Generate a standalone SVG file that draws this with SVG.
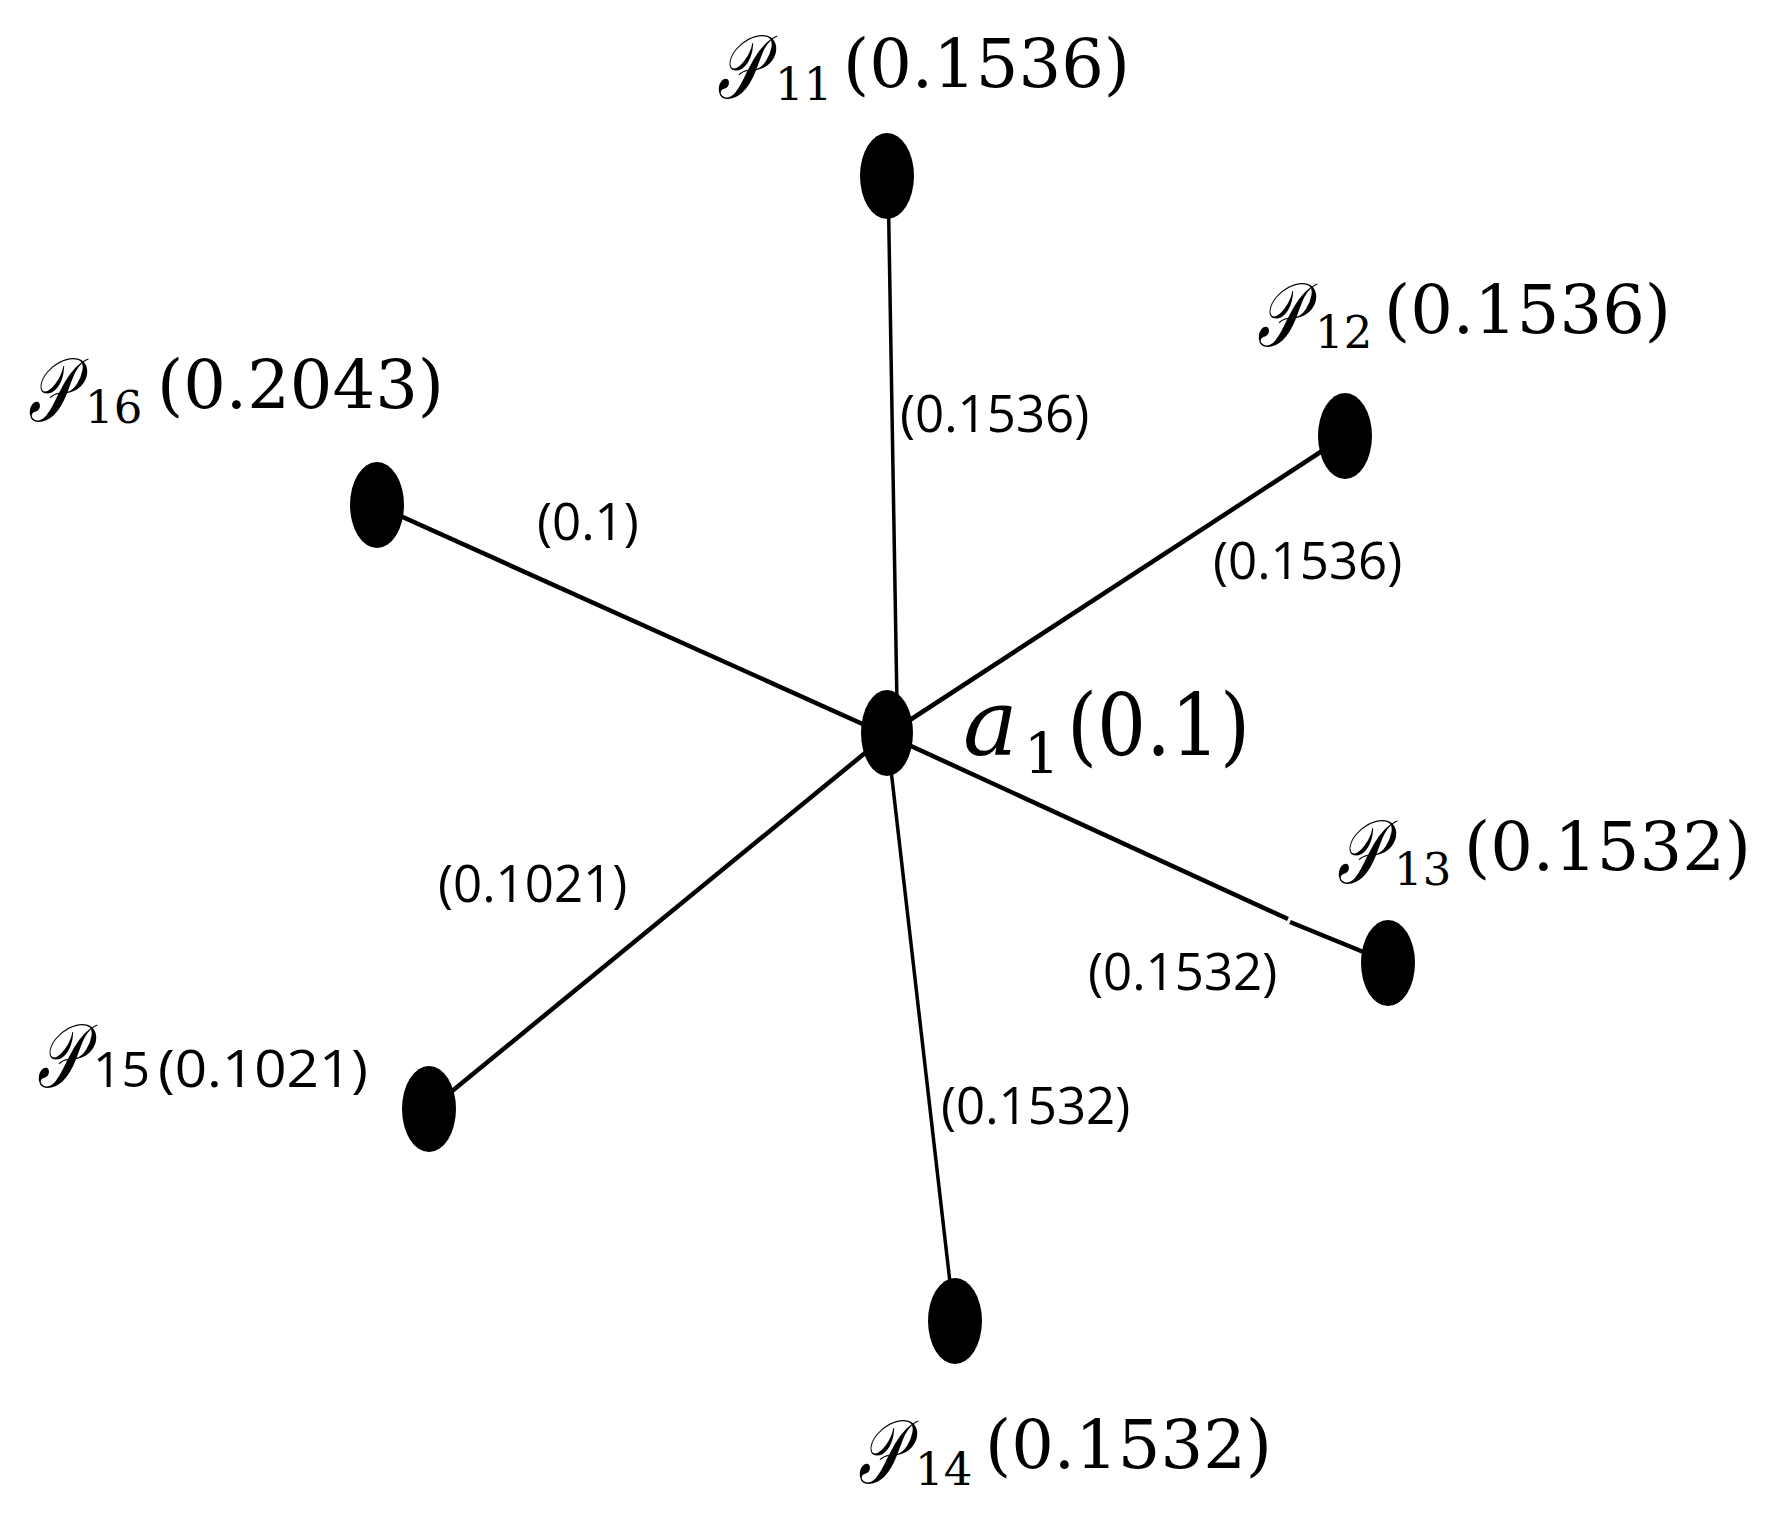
<svg xmlns="http://www.w3.org/2000/svg" width="1772" height="1515" viewBox="0 0 1772 1515">
<style>
.node{fill:#000}
.edge{stroke:#000;stroke-width:4.5;fill:none;stroke-linecap:butt}
.thin{stroke-width:3.5}
.big{font-family:"DejaVu Serif","Liberation Serif",serif;font-size:68px;fill:#000}
.sub{font-family:"DejaVu Serif","Liberation Serif",serif;font-size:45px;fill:#000}
.scr{font-family:"DejaVu Serif","DejaVu Sans","Noto Sans",serif;font-style:italic;font-size:62px;fill:#000}
.w{font-family:"Open Sans","Noto Sans",sans-serif;font-size:51px;fill:#000}
</style>
<rect width="1772" height="1515" fill="#fff"/>
<g id="connectors">
<line class="edge thin" x1="888" y1="176" x2="897" y2="705"/>
<line class="edge thin" x1="887" y1="735" x2="952" y2="1300"/>
<line class="edge" x1="376" y1="505" x2="887" y2="735"/>
<line class="edge" x1="1345" y1="436" x2="887" y2="735"/>
<line class="edge" x1="429" y1="1110" x2="887" y2="735"/>
<polyline class="edge" points="887,735 1288,919"/>
<polyline class="edge" points="1290,922 1388,962"/>
<text class="w" x="900" y="432">(0.1536)</text>
<text class="w" x="537" y="540">(0.1)</text>
<text class="w" x="1213" y="579">(0.1536)</text>
<text class="w" x="438" y="902">(0.1021)</text>
<text class="w" x="1088" y="990">(0.1532)</text>
<text class="w" x="941" y="1124">(0.1532)</text>
</g>
<g id="a1">
<ellipse class="node" cx="887" cy="733" rx="26" ry="43"/>
<text class="big" x="963" y="755" style="font-style:italic;font-size:92px">a</text>
<text class="sub" x="1024" y="773" style="font-size:56px">1</text>
<text class="big" x="1067" y="755" style="font-size:86px" textLength="183" lengthAdjust="spacingAndGlyphs">(0.1)</text>
</g>
<g id="p11">
<ellipse class="node" cx="887" cy="176" rx="27" ry="43"/>
<text class="scr" transform="translate(717,98) scale(1,1.45)">𝒫</text>
<text class="sub" x="775" y="100">11</text>
<text class="big" x="843" y="87" textLength="287" lengthAdjust="spacingAndGlyphs">(0.1536)</text>
</g>
<g id="p12">
<ellipse class="node" cx="1345" cy="436" rx="27" ry="43"/>
<text class="scr" transform="translate(1257,346) scale(1,1.45)">𝒫</text>
<text class="sub" x="1315" y="348">12</text>
<text class="big" x="1384" y="333" textLength="287" lengthAdjust="spacingAndGlyphs">(0.1536)</text>
</g>
<g id="p13">
<ellipse class="node" cx="1388" cy="963" rx="27" ry="43"/>
<text class="scr" transform="translate(1337,883) scale(1,1.45)">𝒫</text>
<text class="sub" x="1394" y="885">13</text>
<text class="big" x="1464" y="870" textLength="287" lengthAdjust="spacingAndGlyphs">(0.1532)</text>
</g>
<g id="p14">
<ellipse class="node" cx="955" cy="1321" rx="27" ry="43"/>
<text class="scr" transform="translate(858,1483) scale(1,1.45)">𝒫</text>
<text class="sub" x="915" y="1485">14</text>
<text class="big" x="985" y="1468" textLength="287" lengthAdjust="spacingAndGlyphs">(0.1532)</text>
</g>
<g id="p15">
<ellipse class="node" cx="429" cy="1109" rx="27" ry="43"/>
<text class="scr" transform="translate(37,1087) scale(1,1.45)">𝒫</text>
<text class="w" x="93" y="1087" style="font-size:50px">15</text>
<text class="w" x="158" y="1087" style="font-size:52px" textLength="210" lengthAdjust="spacingAndGlyphs">(0.1021)</text>
</g>
<g id="p16">
<ellipse class="node" cx="377" cy="505" rx="27" ry="43"/>
<text class="scr" transform="translate(28,421) scale(1,1.45)">𝒫</text>
<text class="sub" x="85" y="423">16</text>
<text class="big" x="157" y="408" textLength="287" lengthAdjust="spacingAndGlyphs">(0.2043)</text>
</g>
</svg>
